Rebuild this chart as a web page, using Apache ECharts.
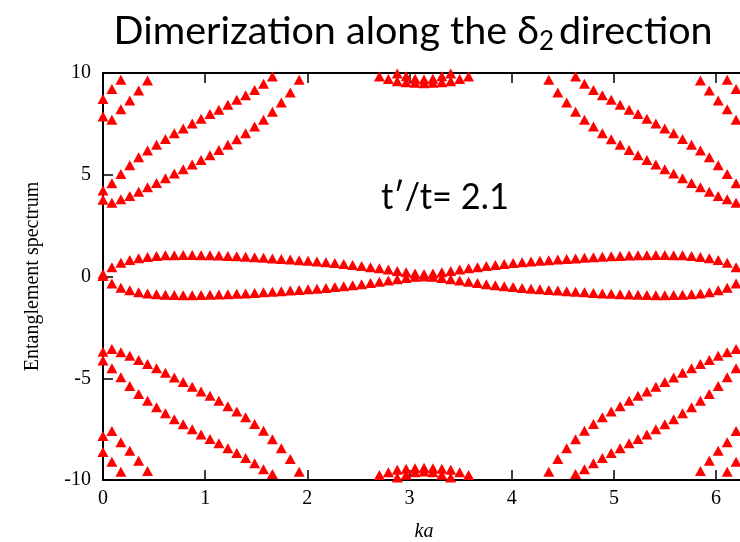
<!DOCTYPE html>
<html>
<head>
<meta charset="utf-8">
<script src="https://cdn.jsdelivr.net/npm/echarts@6/dist/echarts.min.js"></script>
<style>html,body{margin:0;padding:0;background:#fff;}#c{width:740px;height:542px;}</style>
</head>
<body>
<div id="c"></div>
<script>
const _ = null;
// k values (ka), 72 samples over [0, 2π)
const ka = [0, 0.087, 0.175, 0.262, 0.349, 0.436, 0.524, 0.611, 0.698, 0.785, 0.873, 0.960,
  1.047, 1.134, 1.222, 1.309, 1.396, 1.484, 1.571, 1.658, 1.745, 1.833, 1.920, 2.007,
  2.094, 2.182, 2.269, 2.356, 2.443, 2.531, 2.618, 2.705, 2.793, 2.880, 2.967, 3.054,
  3.142, 3.229, 3.316, 3.403, 3.491, 3.578, 3.665, 3.752, 3.840, 3.927, 4.014, 4.102,
  4.189, 4.276, 4.363, 4.451, 4.538, 4.625, 4.712, 4.800, 4.887, 4.974, 5.061, 5.149,
  5.236, 5.323, 5.411, 5.498, 5.585, 5.672, 5.760, 5.847, 5.934, 6.021, 6.109, 6.196];

const xTicks = [0, 1, 2, 3, 4, 5, 6];
const yTicks = [-10, -5, 0, 5, 10];

// central pair of levels
const bandUpper = [0.12, 0.46, 0.68, 0.81, 0.90, 0.96, 1.01, 1.04, 1.05, 1.06, 1.06, 1.05,
  1.04, 1.03, 1.01, 0.99, 0.97, 0.95, 0.92, 0.89, 0.86, 0.83, 0.80, 0.77,
  0.74, 0.70, 0.66, 0.62, 0.57, 0.52, 0.46, 0.40, 0.34, 0.27, 0.21, 0.15,
  0.12, 0.15, 0.21, 0.27, 0.34, 0.40, 0.46, 0.52, 0.57, 0.62, 0.66, 0.70,
  0.74, 0.77, 0.80, 0.83, 0.86, 0.89, 0.92, 0.95, 0.97, 0.99, 1.01, 1.03,
  1.04, 1.05, 1.06, 1.06, 1.05, 1.04, 1.01, 0.96, 0.90, 0.81, 0.68, 0.46];
const bandLower = [0.02, -0.35, -0.55, -0.68, -0.77, -0.83, -0.87, -0.90, -0.91, -0.92, -0.92, -0.91,
  -0.90, -0.89, -0.87, -0.85, -0.83, -0.81, -0.78, -0.75, -0.72, -0.69, -0.66, -0.63,
  -0.60, -0.56, -0.52, -0.48, -0.43, -0.38, -0.32, -0.26, -0.20, -0.13, -0.07, -0.01,
  0.00, -0.01, -0.07, -0.13, -0.20, -0.26, -0.32, -0.38, -0.43, -0.48, -0.52, -0.56,
  -0.60, -0.63, -0.66, -0.69, -0.72, -0.75, -0.78, -0.81, -0.83, -0.85, -0.87, -0.89,
  -0.90, -0.91, -0.92, -0.92, -0.91, -0.90, -0.87, -0.83, -0.77, -0.68, -0.55, -0.35];

// upper levels
const upperA = [4.22, 4.58, 5.04, 5.47, 5.86, 6.19, 6.48, 6.76, 7.04, 7.27, 7.52, 7.75,
  7.99, 8.20, 8.44, 8.68, 8.91, 9.17, 9.47, 9.83, _, _, _, _,
  _, _, _, _, _, _, _, _, _, _, _, _,
  _, _, _, _, _, _, _, _, _, _, _, _,
  _, _, _, _, _, 9.83, 9.47, 9.17, 8.91, 8.68, 8.44, 8.20,
  7.99, 7.75, 7.52, 7.27, 7.04, 6.76, 6.48, 6.19, 5.86, 5.47, 5.04, 4.58];
const upperB = [3.77, 3.63, 3.80, 3.96, 4.16, 4.39, 4.60, 4.83, 5.06, 5.27, 5.50, 5.73,
  5.96, 6.22, 6.48, 6.75, 7.04, 7.37, 7.70, 8.09, 8.55, 9.04, 9.67, _,
  _, _, _, _, _, _, _, _, _, _, _, _,
  _, _, _, _, _, _, _, _, _, _, _, _,
  _, _, 9.67, 9.04, 8.55, 8.09, 7.70, 7.37, 7.04, 6.75, 6.48, 6.22,
  5.96, 5.73, 5.50, 5.27, 5.06, 4.83, 4.60, 4.39, 4.16, 3.96, 3.80, 3.63];
const upperC = [8.72, 9.21, 9.67, _, _, _, _, _, _, _, _, _,
  _, _, _, _, _, _, _, _, _, _, _, _,
  _, _, _, _, _, _, _, _, _, _, _, _,
  _, _, _, _, _, _, _, _, _, _, _, _,
  _, _, _, _, _, _, _, _, _, _, _, _,
  _, _, _, _, _, _, _, _, _, _, 9.67, 9.21];
const upperD = [7.86, 7.70, 8.22, 8.65, 9.14, 9.63, _, _, _, _, _, _,
  _, _, _, _, _, _, _, _, _, _, _, _,
  _, _, _, _, _, _, _, _, _, _, _, _,
  _, _, _, _, _, _, _, _, _, _, _, _,
  _, _, _, _, _, _, _, _, _, _, _, _,
  _, _, _, _, _, _, _, 9.63, 9.14, 8.65, 8.22, 7.70];
const upperE = [_, _, _, _, _, _, _, _, _, _, _, _,
  _, _, _, _, _, _, _, _, _, _, _, _,
  _, _, _, _, _, _, _, 9.83, 9.71, 9.60, 9.55, 9.52,
  9.50, 9.52, 9.55, 9.60, 9.71, 9.83, _, _, _, _, _, _,
  _, _, _, _, _, _, _, _, _, _, _, _,
  _, _, _, _, _, _, _, _, _, _, _, _];
const upperF = [_, _, _, _, _, _, _, _, _, _, _, _,
  _, _, _, _, _, _, _, _, _, _, _, _,
  _, _, _, _, _, _, _, _, _, 9.97, 9.84, 9.72,
  9.68, 9.72, 9.84, 9.97, _, _, _, _, _, _, _, _,
  _, _, _, _, _, _, _, _, _, _, _, _,
  _, _, _, _, _, _, _, _, _, _, _, _];

// lower levels
const lowerA = [-4.13, -4.51, -4.95, -5.38, -5.77, -6.11, -6.43, -6.72, -7.02, -7.26, -7.51, -7.76,
  -7.99, -8.20, -8.44, -8.67, -8.92, -9.18, -9.47, -9.70, _, _, _, _,
  _, _, _, _, _, _, _, _, _, _, _, _,
  _, _, _, _, _, _, _, _, _, _, _, _,
  _, _, _, _, _, -9.70, -9.47, -9.18, -8.92, -8.67, -8.44, -8.20,
  -7.99, -7.76, -7.51, -7.26, -7.02, -6.72, -6.43, -6.11, -5.77, -5.38, -4.95, -4.51];
const lowerB = [-3.70, -3.56, -3.72, -3.89, -4.10, -4.30, -4.51, -4.73, -4.96, -5.19, -5.42, -5.65,
  -5.86, -6.11, -6.37, -6.63, -6.92, -7.25, -7.58, -8.00, -8.44, -8.97, -9.59, _,
  _, _, _, _, _, _, _, _, _, _, _, _,
  _, _, _, _, _, _, _, _, _, _, _, _,
  _, _, -9.59, -8.97, -8.44, -8.00, -7.58, -7.25, -6.92, -6.63, -6.37, -6.11,
  -5.86, -5.65, -5.42, -5.19, -4.96, -4.73, -4.51, -4.30, -4.10, -3.89, -3.72, -3.56];
const lowerC = [-8.62, -9.10, -9.59, _, _, _, _, _, _, _, _, _,
  _, _, _, _, _, _, _, _, _, _, _, _,
  _, _, _, _, _, _, _, _, _, _, _, _,
  _, _, _, _, _, _, _, _, _, _, _, _,
  _, _, _, _, _, _, _, _, _, _, _, _,
  _, _, _, _, _, _, _, _, _, _, -9.59, -9.10];
const lowerD = [-7.84, -7.59, -8.15, -8.56, -9.05, -9.56, _, _, _, _, _, _,
  _, _, _, _, _, _, _, _, _, _, _, _,
  _, _, _, _, _, _, _, _, _, _, _, _,
  _, _, _, _, _, _, _, _, _, _, _, _,
  _, _, _, _, _, _, _, _, _, _, _, _,
  _, _, _, _, _, _, _, -9.56, -9.05, -8.56, -8.15, -7.59];
const lowerE = [_, _, _, _, _, _, _, _, _, _, _, _,
  _, _, _, _, _, _, _, _, _, _, _, _,
  _, _, _, _, _, _, _, -9.75, -9.62, -9.50, -9.45, -9.42,
  -9.40, -9.42, -9.45, -9.50, -9.62, -9.75, _, _, _, _, _, _,
  _, _, _, _, _, _, _, _, _, _, _, _,
  _, _, _, _, _, _, _, _, _, _, _, _];
const lowerF = [_, _, _, _, _, _, _, _, _, _, _, _,
  _, _, _, _, _, _, _, _, _, _, _, _,
  _, _, _, _, _, _, _, _, _, -9.88, -9.74, -9.62,
  -9.58, -9.62, -9.74, -9.88, _, _, _, _, _, _, _, _,
  _, _, _, _, _, _, _, _, _, _, _, _,
  _, _, _, _, _, _, _, _, _, _, _, _];

const levels = [bandUpper, bandLower, upperA, upperB, upperC, upperD, upperE, upperF,
  lowerA, lowerB, lowerC, lowerD, lowerE, lowerF];

function toPoints(arr) {
  const pts = [];
  for (let i = 0; i < ka.length; i++) {
    if (arr[i] !== null && arr[i] !== undefined) pts.push([ka[i], arr[i]]);
  }
  return pts;
}

const chart = echarts.init(document.getElementById('c'), null, {renderer: 'canvas'});
const serif = 'Liberation Serif';
const axisLineStyle = {color: '#000', width: 2};
const tickStyle = {color: '#000', width: 1.5};

const option = {
  animation: false,
  backgroundColor: '#fff',
  grid: {left: 103, right: -5, top: 73, bottom: 62, containLabel: false, outerBoundsMode: 'none'},
  xAxis: [{
    type: 'value', min: 0, max: 6.2832, interval: 1, position: 'bottom',
    axisLine: {show: true, onZero: false, lineStyle: axisLineStyle},
    axisTick: {show: true, inside: true, length: 10, lineStyle: tickStyle},
    axisLabel: {show: true, showMaxLabel: false, color: '#000', fontFamily: serif, fontSize: 20, margin: 9,
      formatter: function (v) { return xTicks.indexOf(v) >= 0 ? String(v) : ''; }},
    splitLine: {show: false},
    name: 'ka', nameLocation: 'middle', nameGap: 42,
    nameTextStyle: {color: '#000', fontFamily: serif, fontSize: 20, fontStyle: 'italic'}
  }, {
    type: 'value', min: 0, max: 6.2832, interval: 1, position: 'top',
    axisLine: {show: true, onZero: false, lineStyle: axisLineStyle},
    axisTick: {show: true, inside: true, length: 10, lineStyle: tickStyle},
    axisLabel: {show: false},
    splitLine: {show: false}
  }],
  yAxis: [{
    type: 'value', min: -10, max: 10, interval: 5, position: 'left',
    axisLine: {show: true, onZero: false, lineStyle: axisLineStyle},
    axisTick: {show: true, inside: true, length: 10, lineStyle: tickStyle},
    axisLabel: {show: true, color: '#000', fontFamily: serif, fontSize: 20, margin: 12,
      formatter: function (v) { return yTicks.indexOf(v) >= 0 ? String(v) : ''; }},
    splitLine: {show: false},
    name: 'Entanglement spectrum', nameLocation: 'middle', nameGap: 60, nameRotate: 90,
    nameTextStyle: {color: '#000', fontFamily: serif, fontSize: 20}
  }],
  graphic: [
    {type: 'text', x: 539, y: 31, silent: true,
      style: {text: 'Dimerization along the δ', fill: '#000', font: '39.5px Lato', textAlign: 'right', textVerticalAlign: 'middle'}},
    {type: 'text', x: 539, y: 42, silent: true,
      style: {text: '2', fill: '#000', font: '26px Lato', textAlign: 'left', textVerticalAlign: 'middle'}},
    {type: 'text', x: 559, y: 31, silent: true,
      style: {text: 'direction', fill: '#000', font: '39.5px Lato', textAlign: 'left', textVerticalAlign: 'middle'}},
    {type: 'text', x: 381, y: 197, scaleX: 0.93, silent: true,
      style: {text: 't′/t= 2.1', fill: '#000', font: '37px Lato', textAlign: 'left', textVerticalAlign: 'middle'}}
  ],
  series: levels.map(function (arr) {
    return {
      type: 'scatter', xAxisIndex: 0, yAxisIndex: 0,
      symbol: 'triangle', symbolSize: [11, 10],
      itemStyle: {color: '#ff0000', opacity: 1},
      data: toPoints(arr)
    };
  })
};
chart.setOption(option);
</script>
</body>
</html>
